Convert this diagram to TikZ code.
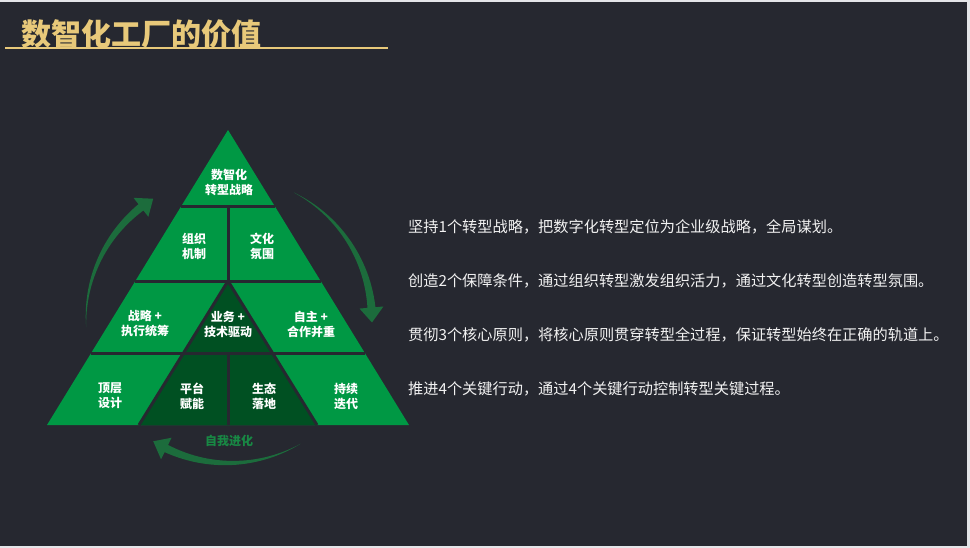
\documentclass[tikz,border=0pt]{standalone}
\usepackage{fontspec}
\newfontfamily\cjk{Noto Sans CJK SC}
\usetikzlibrary{calc}
\definecolor{bg}{RGB}{38,40,48}
\definecolor{edge}{RGB}{228,229,232}
\definecolor{gold}{RGB}{232,201,122}
\definecolor{lgreen}{RGB}{0,152,68}
\definecolor{dgreen}{RGB}{0,80,34}
\definecolor{agreen}{RGB}{28,108,60}
\definecolor{tgreen}{RGB}{24,136,68}
\tikzset{
  cell/.style={text=white, font=\cjk\bfseries\fontsize{12}{15}\selectfont, align=center, inner sep=0pt},
  sep/.style={draw=bg, line width=3pt},
  cyc/.style={fill=agreen},
  note/.style={anchor=west, text=white!95!black, font=\cjk\fontsize{15.2}{18}\selectfont, inner sep=0pt},
  ttl/.style={anchor=west, text=gold, font=\cjk\bfseries\fontsize{30}{33}\selectfont, inner sep=0pt}
}
% tapered arrow on the ring round the pyramid, from angle #1 to tip angle #2
\newcommand{\cycarr}[2]{%
  \fill[cyc] plot[domain=#1:#2-6, samples=30] ({229+(143+4*(\x-#1)/(#2-6-#1))*cos(\x)}, {320+(143+4*(\x-#1)/(#2-6-#1))*sin(\x)})
    -- ($(ctr)+(#2-6:155)$) -- ($(ctr)+(#2:143)$) -- ($(ctr)+(#2-6:131)$)
    -- plot[domain=#2-6:#1, samples=30] ({229+(143-4*(\x-#1)/(#2-6-#1))*cos(\x)}, {320+(143-4*(\x-#1)/(#2-6-#1))*sin(\x)}) -- cycle;}

\begin{document}
\begin{tikzpicture}[x=1pt, y=-1pt]
	\fill[bg] (0,0) rectangle (970,548);
	\useasboundingbox (0,0) rectangle (970,548);
	\fill[edge] (0,0) rectangle (970,2.5);
	\fill[edge] (967,0) rectangle (970,548);
	\fill[edge] (0,545.5) rectangle (970,548);

	% title
	\node[ttl] (head) at (21,34) {数智化工厂的价值};
	\draw[gold, line width=2pt] (5,48) -- (388,48);

	% pyramid
	\coordinate (A) at (228,130);
	\coordinate (L) at (47,425);
	\coordinate (R) at (409,425);
	\coordinate (I) at (228,281);
	\coordinate (IL) at (139,425);
	\coordinate (IR) at (317,425);
	\coordinate (ctr) at (229,320);
	\fill[lgreen] (A) -- (L) -- (R) -- cycle;
	\fill[dgreen] (I) -- (IL) -- (IR) -- cycle;
	\draw[sep] ($(A)!0.261!(L)$) -- ($(A)!0.261!(R)$);
	\draw[sep] ($(A)!0.512!(L)$) -- ($(A)!0.512!(R)$);
	\draw[sep] ($(A)!0.756!(L)$) -- ($(A)!0.756!(R)$);
	\draw[sep] (228,207) -- (I);
	\draw[sep] (228,353) -- (228,425);
	\draw[sep] (I) -- (IL);
	\draw[sep] (I) -- (IR);

	\node[cell] (top) at (229,182) {数智化\\转型战略};
	\node[cell] (org) at (194,246) {组织\\机制};
	\node[cell] (cul) at (262,246) {文化\\氛围};
	\node[cell] (strat) at (145,324) {战略 +\\执行统筹};
	\node[cell] (biz) at (228,324) {业务 +\\技术驱动};
	\node[cell] (self) at (311,324) {自主 +\\合作并重};
	\node[cell] (design) at (110,396) {顶层\\设计};
	\node[cell] (plat) at (192,396) {平台\\赋能};
	\node[cell] (eco) at (264,396) {生态\\落地};
	\node[cell] (iter) at (346,396) {持续\\迭代};

	% loop arrows
	\cycarr{177}{238}
	\cycarr{297}{361}
	\cycarr{60}{122}
	\node[cell, text=tgreen] (evo) at (229,441) {自我进化};

	% notes
	\node[note] (n1) at (408,227) {坚持1个转型战略，把数字化转型定位为企业级战略，全局谋划。};
	\node[note] (n2) at (408,281) {创造2个保障条件，通过组织转型激发组织活力，通过文化转型创造转型氛围。};
	\node[note] (n3) at (408,335) {贯彻3个核心原则，将核心原则贯穿转型全过程，保证转型始终在正确的轨道上。};
	\node[note] (n4) at (408,389) {推进4个关键行动，通过4个关键行动控制转型关键过程。};
\end{tikzpicture}
\end{document}
